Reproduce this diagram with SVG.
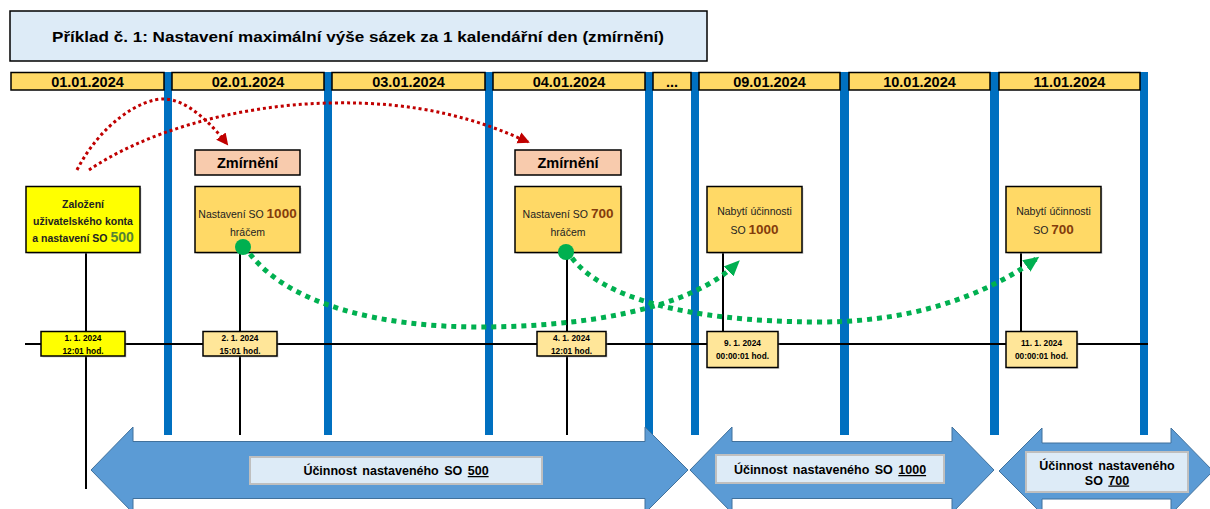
<svg xmlns="http://www.w3.org/2000/svg" width="1210" height="509" viewBox="0 0 1210 509">
<style>
  .t { font-family: "Liberation Sans", Arial, sans-serif; }
  .hdr { fill: #FFD966; stroke: #000; stroke-width: 1.5; }
  .hdrt { font-family: "Liberation Sans", Arial, sans-serif; font-weight: bold; font-size: 14.5px; text-anchor: middle; fill: #000; }
  .bar { fill: #0070C0; }
  .stem { stroke: #000; stroke-width: 2; fill: none; }
  .box { stroke: #000; stroke-width: 1.5; }
  .gold { fill: #FFD966; }
  .yel { fill: #FFFF00; }
  .pale { fill: #FFE699; }
  .peach { fill: #F8CBAD; }
  .shadow { fill: #9a9a9a; opacity: 0.4; }
  .bt { font-family: "Liberation Sans", Arial, sans-serif; font-size: 10.5px; text-anchor: middle; fill: #222; }
  .bb { font-weight: bold; }
  .dt { font-family: "Liberation Sans", Arial, sans-serif; font-weight: bold; font-size: 8.3px; text-anchor: middle; fill: #000; }
  .red { fill: none; stroke: #C00000; stroke-width: 3; stroke-dasharray: 3 3; }
  .grn { fill: none; stroke: #00B050; stroke-width: 5; stroke-dasharray: 5 5; }
  .arrow { fill: #5B9BD5; stroke: #41719C; stroke-width: 1; }
  .lbl { fill: #DDEBF7; stroke: #BFBFBF; stroke-width: 2; }
  .lt { font-family: "Liberation Sans", Arial, sans-serif; font-weight: bold; font-size: 12.5px; text-anchor: middle; fill: #000; word-spacing: 2px; }
</style>
<defs>
  <marker id="redhead" markerUnits="userSpaceOnUse" markerWidth="14" markerHeight="14" viewBox="0 0 14 14" refX="10" refY="7" orient="auto">
    <path d="M0,1 L12,7 L0,13 Z" fill="#C00000"/>
  </marker>
  <marker id="grnhead" markerUnits="userSpaceOnUse" markerWidth="18" markerHeight="18" viewBox="0 0 18 18" refX="12" refY="9" orient="auto">
    <path d="M0,2 L16,9 L0,16 Z" fill="#00B050"/>
  </marker>
</defs>
<rect width="1210" height="509" fill="#fff"/>

<g id="title">
  <rect x="10" y="11" width="697" height="50" fill="#DDEBF7" stroke="#000" stroke-width="1.5"/>
  <text class="t" x="358" y="42" font-size="15.5" font-weight="bold" text-anchor="middle" textLength="612" lengthAdjust="spacingAndGlyphs">Příklad č. 1: Nastavení maximální výše sázek za 1 kalendářní den (zmírnění)</text>
</g>

<g id="day-separators">
  <rect class="bar" x="164" y="72" width="8" height="363"/>
  <rect class="bar" x="324" y="72" width="8" height="363"/>
  <rect class="bar" x="485" y="72" width="8" height="363"/>
  <rect class="bar" x="645" y="72" width="8" height="363"/>
  <rect class="bar" x="691" y="72" width="8" height="363"/>
  <rect class="bar" x="840" y="72" width="9" height="363"/>
  <rect class="bar" x="990" y="72" width="9" height="363"/>
  <rect class="bar" x="1140" y="72" width="8" height="363"/>
</g>

<g id="header">
  <rect class="hdr" x="11" y="72.5" width="153" height="17.5"/>
  <text class="hdrt" x="87.5" y="86.5">01.01.2024</text>
  <rect class="hdr" x="172" y="72.5" width="152" height="17.5"/>
  <text class="hdrt" x="248" y="86.5">02.01.2024</text>
  <rect class="hdr" x="332" y="72.5" width="153" height="17.5"/>
  <text class="hdrt" x="408.5" y="86.5">03.01.2024</text>
  <rect class="hdr" x="493" y="72.5" width="152" height="17.5"/>
  <text class="hdrt" x="569" y="86.5">04.01.2024</text>
  <rect class="hdr" x="653" y="72.5" width="38" height="17.5"/>
  <text class="hdrt" x="672" y="86.5">...</text>
  <rect class="hdr" x="699" y="72.5" width="141" height="17.5"/>
  <text class="hdrt" x="769.5" y="86.5">09.01.2024</text>
  <rect class="hdr" x="849" y="72.5" width="141" height="17.5"/>
  <text class="hdrt" x="919.5" y="86.5">10.01.2024</text>
  <rect class="hdr" x="999" y="72.5" width="141" height="17.5"/>
  <text class="hdrt" x="1069.5" y="86.5">11.01.2024</text>
</g>

<g id="timeline">
  <line class="stem" x1="86" y1="252" x2="86" y2="489"/>
  <line class="stem" x1="240" y1="252" x2="240" y2="435"/>
  <line class="stem" x1="567" y1="252" x2="567" y2="435"/>
  <line class="stem" x1="723" y1="252" x2="723" y2="332"/>
  <line class="stem" x1="1021" y1="252" x2="1021" y2="332"/>
  <line class="stem" x1="25" y1="344" x2="1148" y2="344"/>
</g>

<g id="node-zalozeni">
  <rect class="shadow" x="27.5" y="188" width="114" height="66"/>
  <rect class="box yel" x="26" y="186.5" width="114" height="66"/>
  <text class="bt bb" x="83" y="207.5">Založení</text>
  <text class="bt bb" x="83" y="224.5">uživatelského konta</text>
  <text class="bt bb" x="83" y="242">a nastavení SO <tspan font-size="14" fill="#548235">500</tspan></text>
</g>

<g id="node-zmirneni-1">
  <rect class="box peach" x="195" y="150" width="105" height="25"/>
  <text class="t" x="247.5" y="167.5" font-size="14.5" font-weight="bold" text-anchor="middle">Zmírnění</text>
</g>

<g id="node-nastaveni-1000">
  <rect class="shadow" x="196.5" y="188" width="105" height="66"/>
  <rect class="box gold" x="195" y="186.5" width="105" height="66"/>
  <text class="bt" x="247.5" y="218">Nastavení SO <tspan font-size="13.5" font-weight="bold" fill="#843C0C">1000</tspan></text>
  <text class="bt" x="247.5" y="235.5">hráčem</text>
</g>

<g id="node-zmirneni-2">
  <rect class="box peach" x="515" y="150" width="106" height="25"/>
  <text class="t" x="568" y="167.5" font-size="14.5" font-weight="bold" text-anchor="middle">Zmírnění</text>
</g>

<g id="node-nastaveni-700">
  <rect class="shadow" x="516.5" y="188" width="106" height="66"/>
  <rect class="box gold" x="515" y="186.5" width="106" height="66"/>
  <text class="bt" x="568" y="218">Nastavení SO <tspan font-size="13.5" font-weight="bold" fill="#843C0C">700</tspan></text>
  <text class="bt" x="568" y="235.5">hráčem</text>
</g>

<g id="node-nabyti-1000">
  <rect class="shadow" x="708.5" y="188" width="95" height="66"/>
  <rect class="box gold" x="707" y="186.5" width="95" height="66"/>
  <text class="bt" x="754.5" y="215">Nabytí účinnosti</text>
  <text class="bt" x="754.5" y="233.5">SO  <tspan font-size="13.5" font-weight="bold" fill="#843C0C">1000</tspan></text>
</g>

<g id="node-nabyti-700">
  <rect class="shadow" x="1007.5" y="188" width="95" height="66"/>
  <rect class="box gold" x="1006" y="186.5" width="95" height="66"/>
  <text class="bt" x="1053.5" y="215">Nabytí účinnosti</text>
  <text class="bt" x="1053.5" y="233.5">SO <tspan font-size="13.5" font-weight="bold" fill="#843C0C">700</tspan></text>
</g>

<g id="date-1-1">
  <rect class="shadow" x="42.5" y="333" width="84" height="24.5"/>
  <rect class="box yel" x="41" y="331.5" width="84" height="24.5"/>
  <text class="dt" x="83" y="341">1. 1. 2024</text>
  <text class="dt" x="83" y="354">12:01 hod.</text>
</g>
<g id="date-2-1">
  <rect class="shadow" x="204.5" y="333" width="74" height="24.5"/>
  <rect class="box pale" x="203" y="331.5" width="74" height="24.5"/>
  <text class="dt" x="240" y="341">2. 1. 2024</text>
  <text class="dt" x="240" y="354">15:01 hod.</text>
</g>
<g id="date-4-1">
  <rect class="shadow" x="538.5" y="333" width="69" height="24.5"/>
  <rect class="box pale" x="537" y="331.5" width="69" height="24.5"/>
  <text class="dt" x="571.5" y="341">4. 1. 2024</text>
  <text class="dt" x="571.5" y="354">12:01 hod.</text>
</g>
<g id="date-9-1">
  <rect class="shadow" x="708.5" y="333" width="71" height="36"/>
  <rect class="box pale" x="707" y="331.5" width="71" height="36"/>
  <text class="dt" x="742.5" y="345.5">9. 1. 2024</text>
  <text class="dt" x="742.5" y="358.5">00:00:01 hod.</text>
</g>
<g id="date-11-1">
  <rect class="shadow" x="1007.5" y="333" width="71" height="36"/>
  <rect class="box pale" x="1006" y="331.5" width="71" height="36"/>
  <text class="dt" x="1041.5" y="345.5">11. 1. 2024</text>
  <text class="dt" x="1041.5" y="358.5">00:00:01 hod.</text>
</g>

<g id="connectors">
  <path class="red" d="M77,170 C100,125 140,98 165,99 C187,100 210,122 227,144" marker-end="url(#redhead)"/>
  <path class="red" d="M89,170 C140,135 230,105 330,103 C420,101 480,120 528,142" marker-end="url(#redhead)"/>
  <path class="grn" d="M250,254 C290,305 380,327 480,327 C580,327 690,310 737,263" marker-end="url(#grnhead)"/>
  <path class="grn" d="M572,258 C600,295 680,322 820,322 C930,322 1000,285 1036,259" marker-end="url(#grnhead)"/>
  <circle cx="243" cy="247" r="8" fill="#00B050"/>
  <circle cx="566" cy="252" r="8" fill="#00B050"/>
</g>

<g id="effect-500">
  <polygon class="arrow" points="91,470 133,427 133,441.5 645,441.5 645,427 688,470 645,513 645,498.5 133,498.5 133,513"/>
  <rect class="lbl" x="250" y="457" width="292" height="27"/>
  <text class="lt" x="396" y="475">Účinnost nastaveného SO <tspan text-decoration="underline">500</tspan></text>
</g>
<g id="effect-1000">
  <polygon class="arrow" points="690,470 732,427 732,441.5 952,441.5 952,427 994,470 952,513 952,498.5 732,498.5 732,513"/>
  <rect class="lbl" x="716" y="455" width="228" height="28"/>
  <text class="lt" x="830" y="474">Účinnost nastaveného SO <tspan text-decoration="underline">1000</tspan></text>
</g>
<g id="effect-700">
  <polygon class="arrow" points="999,471 1042,428 1042,443 1171,443 1171,428 1213,471 1171,514 1171,499 1042,499 1042,514"/>
  <rect class="lbl" x="1026" y="452" width="162" height="40"/>
  <text class="lt" x="1107" y="470">Účinnost nastaveného</text>
  <text class="lt" x="1107" y="484.5">SO <tspan text-decoration="underline">700</tspan></text>
</g>
</svg>
